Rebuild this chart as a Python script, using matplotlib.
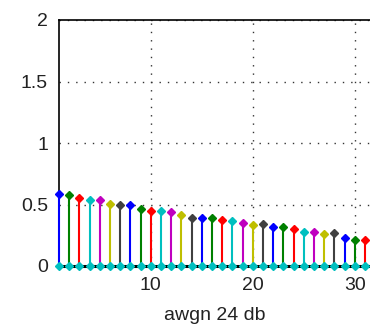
import matplotlib

matplotlib.use("Agg")
import matplotlib.pyplot as plt

# stem values (x = 1..31)
x_vals = list(range(1, 32))
y_vals = [0.587, 0.579, 0.551, 0.538, 0.538, 0.506, 0.494, 0.494, 0.462, 0.446,
          0.446, 0.435, 0.411, 0.392, 0.392, 0.392, 0.376, 0.364, 0.348, 0.337,
          0.343, 0.316, 0.321, 0.302, 0.275, 0.275, 0.262, 0.267, 0.229, 0.215,
          0.215]
x_ticks = [10, 20, 30]
y_ticks = [0, 0.5, 1, 1.5, 2]
y_tick_labels = ["0", "0.5", "1", "1.5", "2"]
x_label = "awgn 24 db"

# old MATLAB colour order
colors = [(0, 0, 1), (0, 0.5, 0), (1, 0, 0), (0, 0.75, 0.75),
          (0.75, 0, 0.75), (0.75, 0.75, 0), (0.25, 0.25, 0.25)]

plt.rcParams["font.family"] = ["Liberation Sans", "DejaVu Sans"]

fig = plt.figure(figsize=(3.7, 3.3), dpi=100)
ax = fig.add_axes([59 / 370, 64 / 330, 311 / 370, 246 / 330])

for i, (xv, yv) in enumerate(zip(x_vals, y_vals)):
    c = colors[i % len(colors)]
    ax.plot([xv, xv], [0, yv], color=c, lw=1.5, zorder=3, clip_on=False)
    ax.plot([xv], [yv], marker="D", ms=4.2, color=c, zorder=4, clip_on=False)

ax.axhline(0, color="black", lw=2.2, zorder=4, clip_on=False)
ax.plot(x_vals, [0] * len(x_vals), "D", ms=4.2, color=(0, 0.75, 0.75),
        zorder=5, clip_on=False)

ax.set_xlim(1, 31.5)
ax.set_ylim(0, 2)
ax.set_xticks(x_ticks)
ax.set_yticks(y_ticks)
ax.set_yticklabels(y_tick_labels)
ax.tick_params(length=0, labelsize=14, pad=8, colors="#222222")
ax.grid(True, color="#333333", linestyle=(0, (1, 5)), lw=1)
ax.set_axisbelow(True)
for side in ["left", "top"]:
    ax.spines[side].set_linewidth(1.2)
ax.spines["right"].set_visible(False)
ax.spines["bottom"].set_visible(False)
ax.set_xlabel(x_label, fontsize=14, labelpad=9, color="#222222")

fig.savefig("out.png", dpi=100)
